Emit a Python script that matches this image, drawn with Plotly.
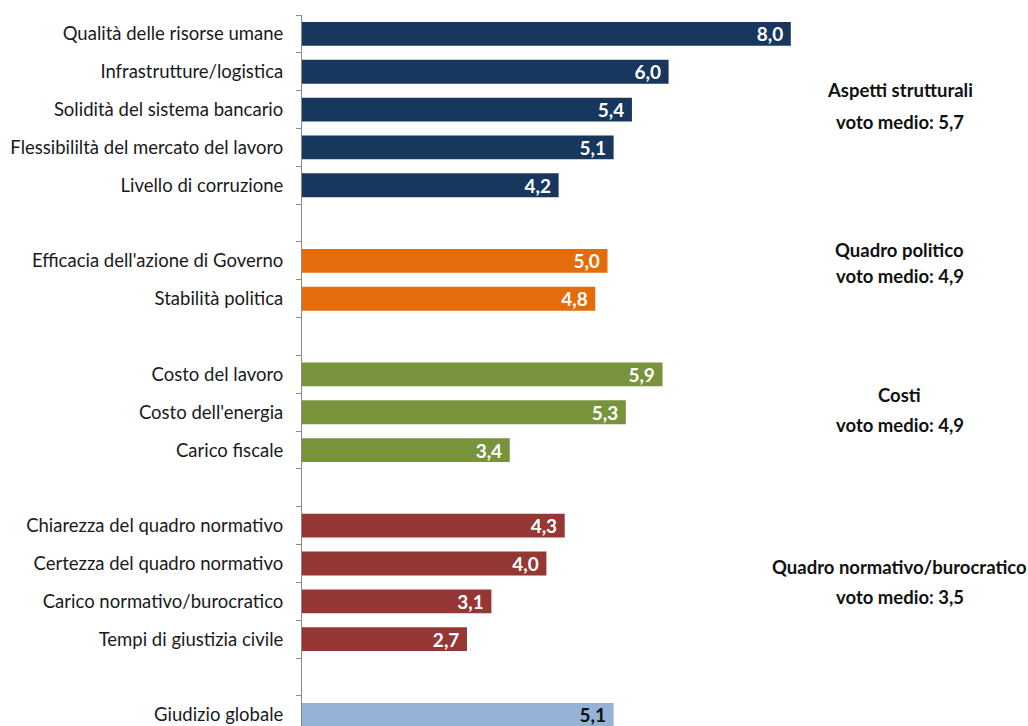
import plotly.graph_objects as go

# Scores by theme (scale 0-10)
strutturali_labels = ["Qualità delle risorse umane", "Infrastrutture/logistica",
                      "Solidità del sistema bancario", "Flessibililtà del mercato del lavoro",
                      "Livello di corruzione"]
strutturali_values = [8.0, 6.0, 5.4, 5.1, 4.2]

politico_labels = ["Efficacia dell'azione di Governo", "Stabilità politica"]
politico_values = [5.0, 4.8]

costi_labels = ["Costo del lavoro", "Costo dell'energia", "Carico fiscale"]
costi_values = [5.9, 5.3, 3.4]

normativo_labels = ["Chiarezza del quadro normativo", "Certezza del quadro normativo",
                    "Carico normativo/burocratico", "Tempi di giustizia civile"]
normativo_values = [4.3, 4.0, 3.1, 2.7]

globale_labels = ["Giudizio globale"]
globale_values = [5.1]

group_titles = ["Aspetti strutturali", "Quadro politico", "Costi", "Quadro normativo/burocratico"]
group_means = [5.7, 4.9, 4.9, 3.5]

colors = ["#17375E", "#E46C0A", "#77933C", "#953735", "#95B3D7"]
text_colors = ["white", "white", "white", "white", "#111111"]

groups = [
    (strutturali_labels, strutturali_values),
    (politico_labels, politico_values),
    (costi_labels, costi_values),
    (normativo_labels, normativo_values),
    (globale_labels, globale_values),
]

FONT = "Lato"

# Category order with a blank spacer slot between groups
category_order = []
group_centers = []
for gi, (labels, _) in enumerate(groups):
    start = len(category_order)
    category_order.extend(labels)
    group_centers.append((start + len(category_order) - 1) / 2)
    if gi < len(groups) - 1:
        category_order.append(" " * (gi + 1))


def fmt(v):
    return f"{v:.1f}".replace(".", ",")


fig = go.Figure()
for (labels, values), col, tcol in zip(groups, colors, text_colors):
    fig.add_trace(go.Bar(
        y=labels, x=values, orientation="h",
        marker=dict(color=col, line=dict(color=col, width=0)),
        width=0.63,
        text=[fmt(v) + "\u00a0" for v in values],
        textposition="inside", insidetextanchor="end",
        textfont=dict(family=FONT, size=19, color=tcol, weight="bold"),
        constraintext="none",
        hoverinfo="skip", showlegend=False,
    ))

px_per_slot = 37.83
plot_h = 726 - 15
y_bottom = -0.5 + plot_h / px_per_slot

# Group captions on the right: (vertical offset in slots, title shift, mean shift)
annotations = []
label_x = 9.78
caption_offsets = [(-0.1, 16, -16), (-0.5, 11, -15), (-0.05, 15, -15), (0, 15, -15)]
for title, mean, center, (off, ts, ms) in zip(group_titles, group_means, group_centers, caption_offsets):
    yc = center + off
    annotations.append(dict(x=label_x, y=yc, xref="x", yref="y", text=title,
                            showarrow=False, yshift=ts,
                            font=dict(family=FONT, size=18.5, color="#111", weight="bold")))
    annotations.append(dict(x=label_x, y=yc, xref="x", yref="y", text=f"voto medio: {fmt(mean)}",
                            showarrow=False, yshift=ms,
                            font=dict(family=FONT, size=18.5, color="#111", weight="bold")))

fig.update_layout(
    width=1028, height=726,
    margin=dict(l=302, r=0, t=15, b=0),
    paper_bgcolor="white", plot_bgcolor="white",
    barmode="overlay",
    annotations=annotations,
    xaxis=dict(range=[0, (1028 - 302) / 61.1], visible=False, showgrid=False, zeroline=False),
    yaxis=dict(
        type="category", categoryorder="array", categoryarray=category_order,
        range=[y_bottom, -0.5],
        tickson="boundaries", ticks="outside", ticklen=5, tickcolor="#8a8a8a",
        showline=True, linecolor="#8a8a8a", linewidth=1,
        showgrid=False, ticklabelstandoff=14,
        tickfont=dict(family=FONT, size=18.5, color="#1a1a1a"),
    ),
)

fig.write_html("out.html")
